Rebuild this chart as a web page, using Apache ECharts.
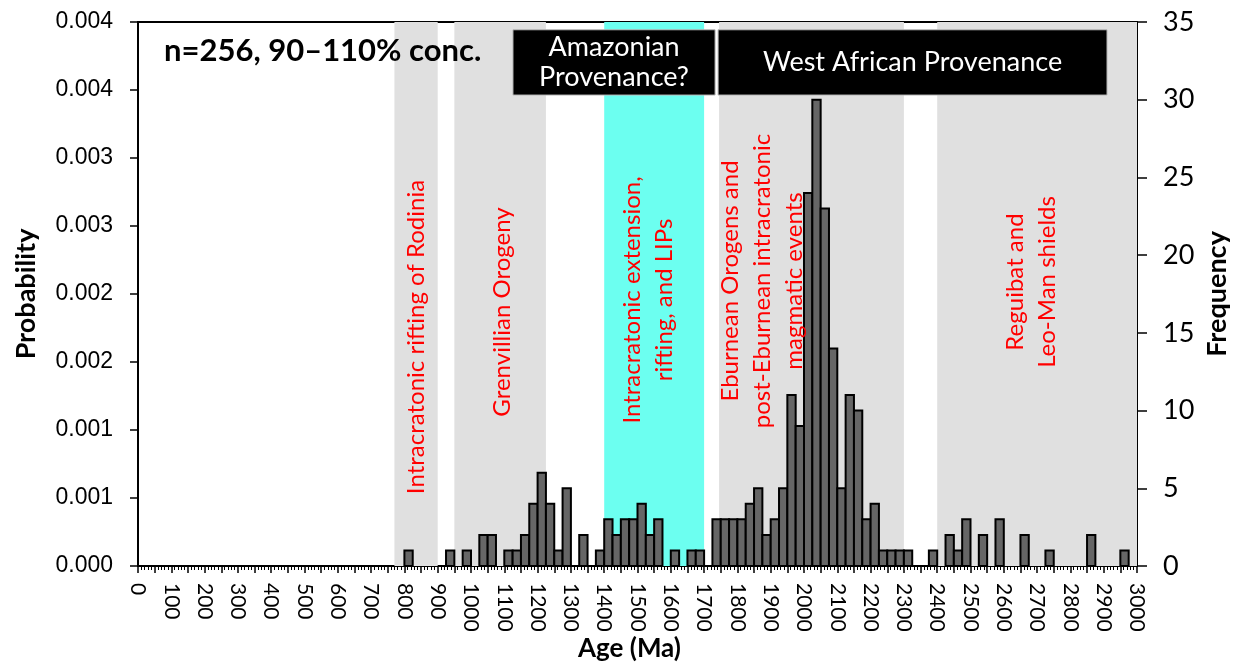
<!DOCTYPE html>
<html><head><meta charset="utf-8">
<script src="https://cdn.jsdelivr.net/npm/echarts@6/dist/echarts.min.js"></script>
<style>html,body{margin:0;padding:0;background:#fff}#c{width:1235px;height:666px}</style>
</head><body><div id="c"></div>
<script>
// ---- data ----
const binWidth = 25; // Ma
const binStarts = [800, 925, 975, 1025, 1050, 1100, 1125, 1150, 1175, 1200, 1225, 1250, 1275, 1325, 1375,
  1400, 1425, 1450, 1475, 1500, 1525, 1550, 1600, 1650, 1675,
  1725, 1750, 1775, 1800, 1825, 1850, 1875, 1900, 1925, 1950, 1975, 2000, 2025, 2050, 2075, 2100,
  2125, 2150, 2175, 2200, 2225, 2250, 2275, 2300, 2375, 2425, 2450, 2475, 2525, 2575, 2650, 2725, 2850, 2950];
const counts = [1, 1, 1, 2, 2, 1, 1, 2, 4, 6, 4, 1, 5, 2, 1,
  3, 2, 3, 3, 4, 2, 3, 1, 1, 1,
  3, 3, 3, 3, 4, 5, 2, 3, 5, 11, 9, 24, 30, 23, 14, 5,
  11, 10, 3, 4, 1, 1, 1, 1, 1, 2, 1, 3, 2, 3, 2, 1, 2, 1];
const probTickLabels = ['0.000', '0.001', '0.001', '0.002', '0.002', '0.003', '0.003', '0.004', '0.004'];
const grayBands = [[770, 900], [950, 1225], [1745, 2300], [2400, 3000]];
const cyanBands = [[1400, 1700]];
const provenanceBoxes = [
  { label: 'Amazonian\nProvenance?', from: 1126, to: 1733 },
  { label: 'West African Provenance', from: 1742, to: 2910 }
];
const annotationTexts = [
  'Intracratonic rifting of Rodinia',
  'Grenvillian Orogeny',
  'Intracratonic extension,\nrifting, and LIPs',
  'Eburnean Orogens and\npost-Eburnean intracratonic\nmagmatic events',
  'Reguibat and\nLeo-Man shields'
];
const titleText = 'n=256, 90\u2013110% conc.';

// ---- layout / style ----
const annPos = [[416, 337], [502, 312], [648, 300], [762, 281], [1031, 282]];
const FONT = 'Lato';

const chart = echarts.init(document.getElementById('c'), null, { renderer: 'canvas' });
const histData = binStarts.map((s, i) => [s, counts[i]]);

const option = {
  backgroundColor: '#ffffff',
  animation: false,
  title: {
    text: titleText, left: 159, top: 30,
    textStyle: { fontFamily: FONT, fontSize: 31, fontWeight: 'bold', color: '#000' }
  },
  grid: {
    left: 138, right: 98, top: 22, bottom: 100, containLabel: false, outerBoundsMode: 'none',
    show: true, borderColor: '#000', borderWidth: 2, backgroundColor: 'transparent'
  },
  xAxis: {
    type: 'value', min: 0, max: 3000, interval: 50,
    name: 'Age (Ma)', nameLocation: 'middle', nameGap: 70, nameMoveOverlap: false,
    nameTextStyle: { fontFamily: FONT, fontSize: 26, fontWeight: 'bold', color: '#000', padding: [0, 16, 0, 0] },
    axisLine: { lineStyle: { color: '#000', width: 2 } },
    axisTick: { show: true, inside: false, length: 7, lineStyle: { color: '#000', width: 1.5 } },
    minorTick: { show: true, splitNumber: 5, length: 4, lineStyle: { color: '#000', width: 1 } },
    splitLine: { show: false },
    axisLabel: {
      rotate: -90, margin: 17, fontFamily: FONT, fontSize: 21, color: '#000',
      formatter: v => (v % 100 === 0 ? String(v) : '')
    }
  },
  yAxis: [
    {
      type: 'value', min: 0, max: 0.004, interval: 0.0005, position: 'left',
      name: 'Probability', nameLocation: 'middle', nameGap: 98, nameRotate: 90, nameMoveOverlap: false,
      nameTextStyle: { fontFamily: FONT, fontSize: 27, fontWeight: 'bold', color: '#000' },
      axisLine: { show: true, lineStyle: { color: '#000', width: 2 } },
      axisTick: { show: true, inside: false, length: 8, lineStyle: { color: '#000', width: 1.5 } },
      splitLine: { show: false },
      axisLabel: {
        margin: 25, fontFamily: 'Liberation Sans', fontSize: 23, color: '#000',
        formatter: v => probTickLabels[Math.round(v / 0.0005)]
      }
    },
    {
      type: 'value', min: 0, max: 35, interval: 5, position: 'right',
      name: 'Frequency', nameLocation: 'middle', nameGap: 67, nameRotate: 90, nameMoveOverlap: false,
      nameTextStyle: { fontFamily: FONT, fontSize: 27, fontWeight: 'bold', color: '#000' },
      axisLine: { show: true, lineStyle: { color: '#000', width: 2 } },
      axisTick: { show: true, inside: false, length: 10, lineStyle: { color: '#000', width: 1.5 } },
      splitLine: { show: false },
      axisLabel: { margin: 26, fontFamily: FONT, fontSize: 27, color: '#000' }
    }
  ],
  series: [
    {
      type: 'line', yAxisIndex: 1, data: [], z: 1, silent: true,
      markArea: {
        silent: true,
        label: { show: false },
        data: grayBands.map(b => [{ xAxis: b[0], itemStyle: { color: '#e0e0e0' } }, { xAxis: b[1] }])
          .concat(cyanBands.map(b => [{ xAxis: b[0], itemStyle: { color: '#6cfff0' } }, { xAxis: b[1] }]))
      }
    },
    {
      type: 'custom', yAxisIndex: 1, z: 3, silent: true,
      data: histData,
      encode: { x: 0, y: 1 },
      renderItem: function (params, api) {
        const x0 = api.value(0), c = api.value(1);
        const p0 = api.coord([x0, c]);
        const p1 = api.coord([x0 + binWidth, 0]);
        return {
          type: 'rect',
          shape: { x: p0[0], y: p0[1], width: p1[0] - p0[0], height: p1[1] - p0[1] },
          style: { fill: '#666666', stroke: '#000', lineWidth: 2 }
        };
      }
    },
    {
      type: 'line', yAxisIndex: 1, data: [], z: 4, silent: true,
      markArea: {
        silent: true,
        itemStyle: { color: '#000', borderColor: '#bbbbbb', borderWidth: 1 },
        label: {
          show: true, position: 'inside', color: '#fff', fontFamily: FONT, fontSize: 27, lineHeight: 30
        },
        data: provenanceBoxes.map(b => [{ name: b.label, xAxis: b.from, yAxis: 34.5 }, { xAxis: b.to, yAxis: 30.3 }])
      }
    }
  ],
  graphic: annotationTexts.map((t, i) => ({
    type: 'text', x: annPos[i][0], y: annPos[i][1], rotation: Math.PI / 2, z: 10,
    style: {
      text: t, fill: '#ff0000', fontFamily: FONT, fontSize: 24, lineHeight: 32,
      align: 'center', verticalAlign: 'middle'
    }
  }))
};
chart.setOption(option);
</script>
</body></html>
